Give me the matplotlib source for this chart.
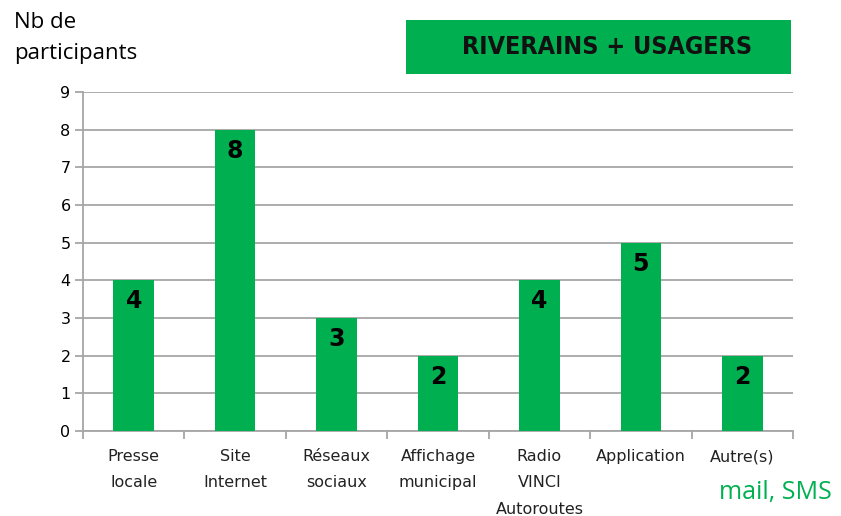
import matplotlib
matplotlib.use("Agg")
import matplotlib.pyplot as plt
from matplotlib.patches import Rectangle

categories = ["Presse\nlocale", "Site\nInternet", "Réseaux\nsociaux", "Affichage\nmunicipal",
              "Radio\nVINCI\nAutoroutes", "Application", "Autre(s)"]
values = [4, 8, 3, 2, 4, 5, 2]
yticks = list(range(0, 10))

green = "#00B050"
grid_col = "#A6A6A6"

plt.rcParams['font.family'] = ['DejaVu Sans']

fig = plt.figure(figsize=(8.41, 5.16), dpi=100)
ax = fig.add_axes([83 / 841, 1 - 431 / 516, 710 / 841, (431 - 92) / 516])

x = list(range(len(values)))
ax.bar(x, values, width=0.4, color=green, zorder=3)

for xi, v in zip(x, values):
    ax.annotate(str(v), (xi, v), xytext=(0, -15), textcoords="offset points",
                ha="center", va="center", fontsize=17, fontweight="heavy", color="black", zorder=4)

ax.set_xlim(-0.5, len(values) - 0.5)
ax.set_ylim(0, 9)
ax.set_yticks(yticks)
ax.yaxis.grid(True, color=grid_col, linewidth=1.3, zorder=0)
ax.set_axisbelow(True)

# category ticks sit between bars, labels at bar centres
ax.set_xticks([i - 0.5 for i in range(len(values) + 1)])
ax.set_xticklabels([])
ax.set_xticks(x, minor=True)
ax.set_xticklabels(categories, minor=True, fontsize=11.5, color="#222222", linespacing=1.95)
ax.tick_params(axis="x", which="minor", length=0, pad=13)
ax.tick_params(axis="x", which="major", length=6, width=1.3, color=grid_col, direction="out")
ax.tick_params(axis="y", length=6, width=1.3, color=grid_col, labelsize=11.5, pad=3)
for lab in ax.get_xticklabels(minor=True):
    lab.set_va("top")

for s in ["top", "right"]:
    ax.spines[s].set_visible(False)
for s in ["left", "bottom"]:
    ax.spines[s].set_color(grid_col)
    ax.spines[s].set_linewidth(1.3)

fig.text(14 / 841, 1 - 12 / 516, "Nb de\nparticipants", fontsize=16, ha="left", va="top",
         family=["Open Sans", "DejaVu Sans"], linespacing=1.6)

fig.patches.append(Rectangle((406 / 841, 1 - 74 / 516), 385 / 841, 54 / 516,
                             transform=fig.transFigure, facecolor=green, edgecolor="none"))
fig.text(607 / 841, 1 - 47 / 516, "RIVERAINS + USAGERS", fontsize=18, fontweight="bold",
         fontstretch="condensed", ha="center", va="center", color="#111111",
         family=["DejaVu Sans"])

fig.text(775 / 841, 1 - 493 / 516, "mail, SMS", fontsize=18, color=green, ha="center", va="center",
         family=["Open Sans", "DejaVu Sans"])

fig.savefig("out.png", dpi=100)
